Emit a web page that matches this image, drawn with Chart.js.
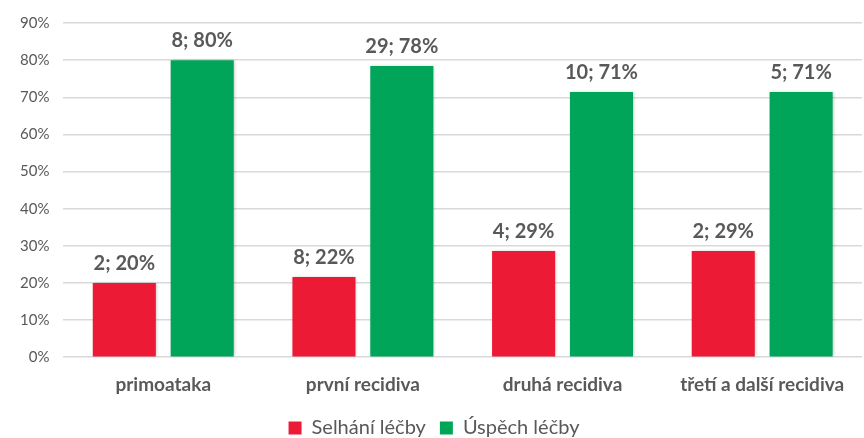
<!DOCTYPE html>
<html>
<head>
<meta charset="utf-8">
<script src="https://cdn.jsdelivr.net/npm/chart.js@4.4.1/dist/chart.umd.min.js"></script>
<style>
  html, body { margin: 0; padding: 0; background: #fff; }
  #wrap { width: 864px; height: 438px; }
</style>
</head>
<body>
<div id="wrap"><canvas id="myChart"></canvas></div>
<script>
const categories = ['primoataka', 'první recidiva', 'druhá recidiva', 'třetí a další recidiva']
const failCounts = [2, 8, 4, 2]
const failPercent = [20, 21.6, 28.6, 28.6]
const successCounts = [8, 29, 10, 5]
const successPercent = [80, 78.4, 71.4, 71.4]
const yTicks = [0, 10, 20, 30, 40, 50, 60, 70, 80, 90]

const textGray = '#595959'
const fontFam = 'Lato, "Open Sans", sans-serif'

// draws "count; pct%" above each bar
const barLabels = {
  id: 'barLabels',
  afterDatasetsDraw(chart) {
    const ctx = chart.ctx
    ctx.save()
    ctx.font = 'bold 20px ' + fontFam
    ctx.fillStyle = textGray
    ctx.textAlign = 'center'
    ctx.textBaseline = 'alphabetic'
    chart.data.datasets.forEach((ds, i) => {
      chart.getDatasetMeta(i).data.forEach((bar, j) => {
        const txt = ds.counts[j] + '; ' + Math.round(ds.data[j]) + '%'
        ctx.fillText(txt, bar.x, bar.y - 13)
      })
    })
    ctx.restore()
  }
}

const barShadow = {
  id: 'barShadow',
  beforeDatasetsDraw(chart) {
    chart.ctx.save()
    chart.ctx.shadowColor = 'rgba(0,0,0,0.25)'
    chart.ctx.shadowBlur = 3
    chart.ctx.shadowOffsetX = 1
    chart.ctx.shadowOffsetY = 0
  },
  afterDatasetsDraw(chart) {
    chart.ctx.restore()
  }
}

new Chart(document.getElementById('myChart').getContext('2d'), {
  type: 'bar',
  data: {
    labels: categories,
    datasets: [
      {
        label: 'Selhání léčby',
        data: failPercent,
        counts: failCounts,
        backgroundColor: '#ED1A36'
      },
      {
        label: 'Úspěch léčby',
        data: successPercent,
        counts: successCounts,
        backgroundColor: '#00A55A'
      }
    ]
  },
  options: {
    responsive: true,
    maintainAspectRatio: false,
    animation: false,
    categoryPercentage: 0.78,
    barPercentage: 0.81,
    layout: { padding: { top: 0, right: 2, left: 6, bottom: -10 } },
    plugins: {
      tooltip: { enabled: false },
      legend: {
        position: 'bottom',
        labels: {
          color: textGray,
          font: { family: fontFam, size: 20 },
          boxWidth: 13,
          boxHeight: 13,
          padding: 14
        }
      }
    },
    scales: {
      x: {
        grid: { display: false },
        border: { display: false },
        ticks: {
          color: textGray,
          font: { family: fontFam, size: 19, weight: 'bold' },
          padding: 8
        }
      },
      y: {
        min: 0,
        max: 90,
        afterBuildTicks(axis) {
          axis.ticks = yTicks.map(v => ({ value: v }))
        },
        grid: { color: '#D9D9D9', lineWidth: 1.5, drawTicks: false },
        border: { display: false },
        ticks: {
          color: textGray,
          font: { family: fontFam, size: 15 },
          padding: 14,
          callback: v => v + '%'
        }
      }
    }
  },
  plugins: [barShadow, barLabels]
})
</script>
</body>
</html>
